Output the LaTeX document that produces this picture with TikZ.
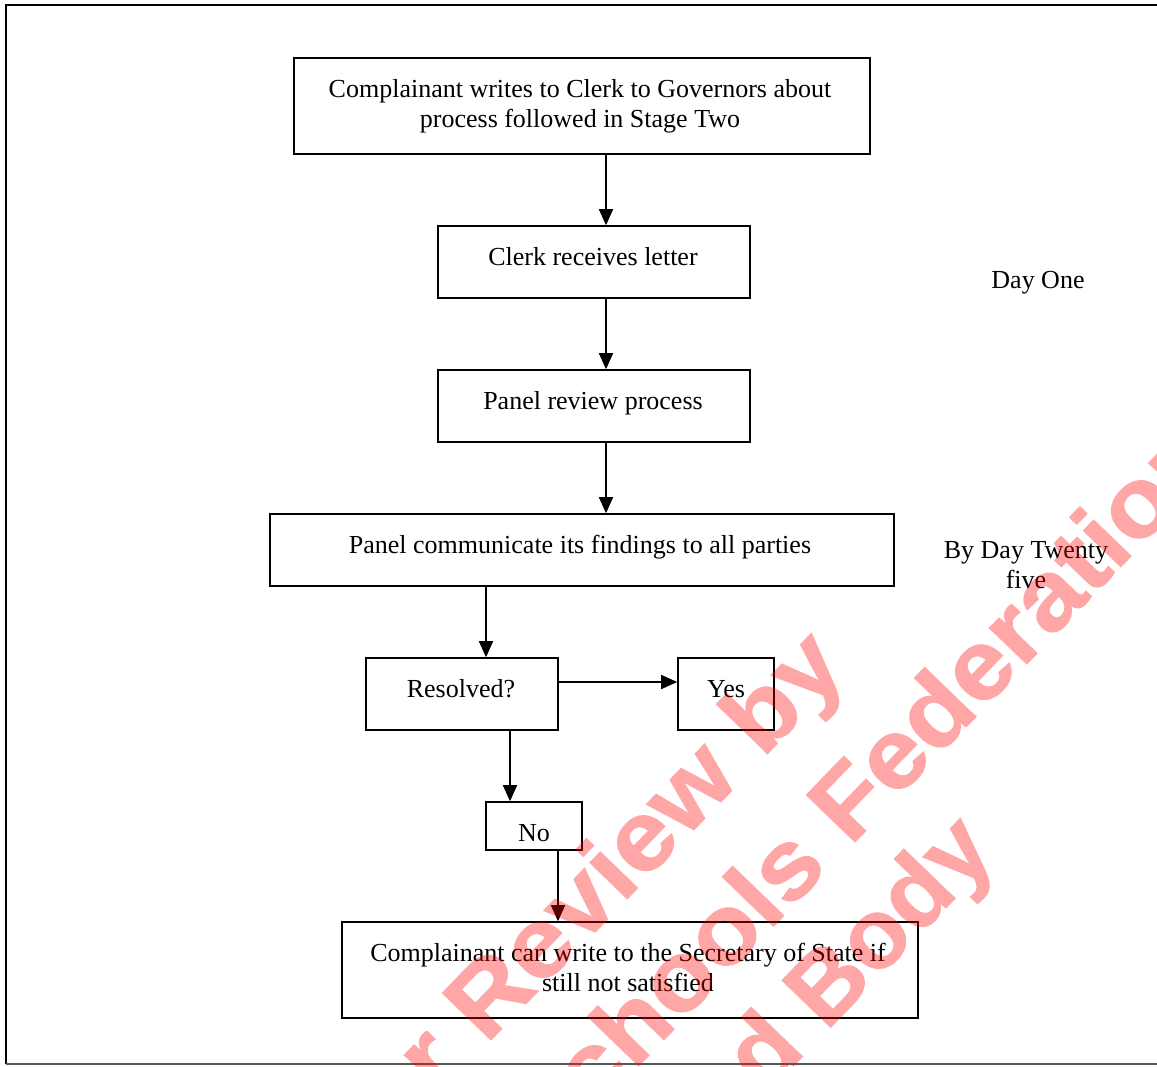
\documentclass[tikz,border=0pt]{standalone}
\usepackage{fontspec}
\setmainfont{Liberation Serif}
\newfontfamily\wmfont{Liberation Sans Bold}[FakeBold=1.2]
\usetikzlibrary{arrows.meta}
\tikzset{
  box/.style={draw=black, line width=1.6pt, inner sep=0pt},
  txt/.style={inner sep=0pt, align=center, font=\fontsize{26}{30}\selectfont, text height=17.5pt, text depth=0pt},
  arr/.style={line width=1.6pt, -{Triangle[length=16pt,width=14pt]}},
  wm/.style={rotate=46, anchor=base west, inner sep=0pt, text=red,
    font=\wmfont\fontsize{98}{110}\selectfont}
}
\begin{document}
\begin{tikzpicture}[x=1pt,y=-1pt]
\useasboundingbox (0,0) rectangle (1157,1066);
\fill[white] (0,0) rectangle (1157,1066);
% frame
\draw[line width=2pt, black] (1157,5) -- (6,5) -- (6,1064);
\draw[line width=1.5pt, black!65] (6,1064) -- (1157,1064);

% boxes
\node[box, minimum width=576pt, minimum height=96pt] (b1) at (582,106) {};
\node[box, minimum width=312pt, minimum height=72pt] (b2) at (594,262) {};
\node[box, minimum width=312pt, minimum height=72pt] (b3) at (594,406) {};
\node[box, minimum width=624pt, minimum height=72pt] (b4) at (582,550) {};
\node[box, minimum width=192pt, minimum height=72pt] (res) at (462,694) {};
\node[box, minimum width=96pt, minimum height=72pt] (yes) at (726,694) {};
\node[box, minimum width=96pt, minimum height=48pt] (no) at (534,826) {};
\node[box, minimum width=576pt, minimum height=96pt] (b8) at (630,970) {};

% texts
\node[txt] (t1a) at (580,89) {Complainant writes to Clerk to Governors about};
\node[txt] (t1b) at (580,119) {process followed in Stage Two};
\node[txt] (t2) at (593,257) {Clerk receives letter};
\node[txt] (t3) at (593,401) {Panel review process};
\node[txt] (t4) at (580,545) {Panel communicate its findings to all parties};
\node[txt] (tres) at (461,689) {Resolved?};
\node[txt] (tyes) at (726,689) {Yes};
\node[txt] (tno) at (534,833) {No};
\node[txt] (t8a) at (628,953) {Complainant can write to the Secretary of State if};
\node[txt] (t8b) at (628,983) {still not satisfied};
\node[txt] (d1) at (1038,280) {Day One};
\node[txt] (d25a) at (1026,550) {By Day Twenty};
\node[txt] (d25b) at (1026,580) {five};

% connectors
\coordinate (xa) at (606,0);
\coordinate (xb) at (486,0);
\coordinate (xc) at (510,0);
\coordinate (xd) at (558,0);
\coordinate (ya) at (0,682);
\draw[arr] (b1.south -| xa) -- (b2.north -| xa);
\draw[arr] (b2.south -| xa) -- (b3.north -| xa);
\draw[arr] (b3.south -| xa) -- (b4.north -| xa);
\draw[arr] (b4.south -| xb) -- (res.north -| xb);
\draw[arr] (res.east |- ya) -- (yes.west |- ya);
\draw[arr] (res.south -| xc) -- (no.north -| xc);
\draw[arr] (no.south -| xd) -- (b8.north -| xd);

% watermark
\begin{scope}[transparency group, opacity=0.35]
\clip (0,0) rectangle (1157,1066);
\node[wm, xscale=1.09] (wm1) at (486,1045) {\llap{Draft for }Review by};
\node[wm, xscale=1.08] (wm2) at (850,847) {\llap{Schools }Federation};
\node[wm, xscale=1.01] (wm3) at (826,1032) {\llap{Federated }Body};
\end{scope}
\end{tikzpicture}
\end{document}
